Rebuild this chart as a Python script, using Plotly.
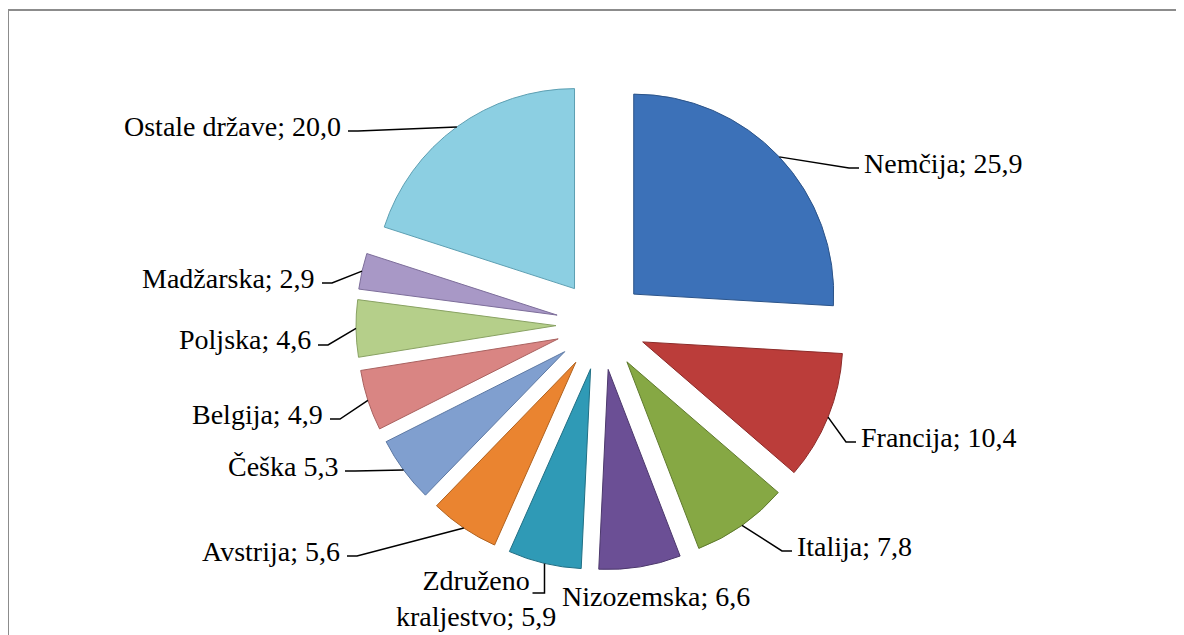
import math
import plotly.graph_objects as go

# data
countries = ["Nemčija", "Francija", "Italija", "Nizozemska", "Združeno kraljestvo",
             "Avstrija", "Češka", "Belgija", "Poljska", "Madžarska", "Ostale države"]
shares = [25.9, 10.4, 7.8, 6.6, 5.9, 5.6, 5.3, 4.9, 4.6, 2.9, 20.0]
label_texts = ["Nemčija; 25,9", "Francija; 10,4", "Italija; 7,8", "Nizozemska; 6,6",
               "Združeno<br>kraljestvo; 5,9", "Avstrija; 5,6", "Češka 5,3",
               "Belgija; 4,9", "Poljska; 4,6", "Madžarska; 2,9", "Ostale države; 20,0"]

colors = ["#3c71b8", "#bb3d3a", "#86a844", "#6b4f95", "#2f9ab6", "#ea8430",
          "#809fcf", "#d98583", "#b5cf8a", "#a898c6", "#8ccfe2"]
edges = ["#2c5489", "#8c2b29", "#5f7a2e", "#4c386c", "#216f84", "#b0621f",
         "#5c78a3", "#a96260", "#89a263", "#7d6e9a", "#5d9fb2"]

# page geometry: the plot div sits 8px in from the window corner
OFF = 8
W, H = 1184 - OFF, 635 - OFF
cx, cy = 601, 325    # pie centre in window pixels
outer = 245          # radius incl. pull
pull = 0.225

# label layout: x, y (window pixels), anchor, leader style
label_pos = [
    (862, 163, "left", "side"),
    (859, 437, "left", "side"),
    (795, 546, "left", "side"),
    (656, 596, "center", None),
    (476, 598, "center", "down"),
    (342, 551, "right", "side"),
    (340, 466, "right", "side"),
    (325, 414, "right", "side"),
    (313, 340, "right", "side"),
    (317, 278, "right", "side"),
    (343, 126, "right", "side"),
]


def px(x):
    return (x - OFF) / W


def py(y):
    return 1 - (y - OFF) / H


fig = go.Figure(go.Pie(
    labels=countries, values=shares, sort=False, direction="clockwise", rotation=0,
    pull=[pull] * len(shares), textinfo="none", hoverinfo="label+value",
    marker=dict(colors=colors, line=dict(color=edges, width=1)),
    domain=dict(x=[px(cx - outer), px(cx + outer)], y=[py(cy + outer), py(cy - outer)]),
    showlegend=False,
))

total = sum(shares)
cum = 0
shapes = []
annotations = []
for i, v in enumerate(shares):
    mid = (cum + v / 2) / total * 2 * math.pi
    cum += v
    ax = cx + outer * math.sin(mid)
    ay = cy - outer * math.cos(mid)
    lx, ly, anchor, style = label_pos[i]
    annotations.append(dict(
        x=px(lx), y=py(ly), xref="paper", yref="paper", text=label_texts[i],
        showarrow=False, xanchor=anchor, yanchor="middle", align="center",
        font=dict(family="Liberation Serif", size=28, color="black"),
    ))
    if style == "side":
        if anchor == "left":
            ex, bx = lx - 3, lx - 13
        else:
            ex, bx = lx + 5, lx + 15
        yy = ly + 5
        path = f"M {px(ax)} {py(ay)} L {px(bx)} {py(yy)} L {px(ex)} {py(yy)}"
    elif style == "down":
        yy = ly - 5
        path = f"M {px(ax)} {py(ay)} L {px(ax)} {py(yy)} L {px(ax - 12)} {py(yy)}"
    else:
        continue
    shapes.append(dict(type="path", path=path, xref="paper", yref="paper",
                       line=dict(color="black", width=1.5)))

# chart border (right and bottom edges fall outside the window)
shapes.append(dict(type="rect", xref="paper", yref="paper",
                   x0=px(8), y0=py(660), x1=px(1210), y1=py(10),
                   line=dict(color="#8c8c8c", width=2)))

fig.update_layout(
    width=W, height=H, margin=dict(l=0, r=0, t=0, b=0),
    paper_bgcolor="white", plot_bgcolor="white",
    shapes=shapes, annotations=annotations,
)

fig.write_html("out.html")
